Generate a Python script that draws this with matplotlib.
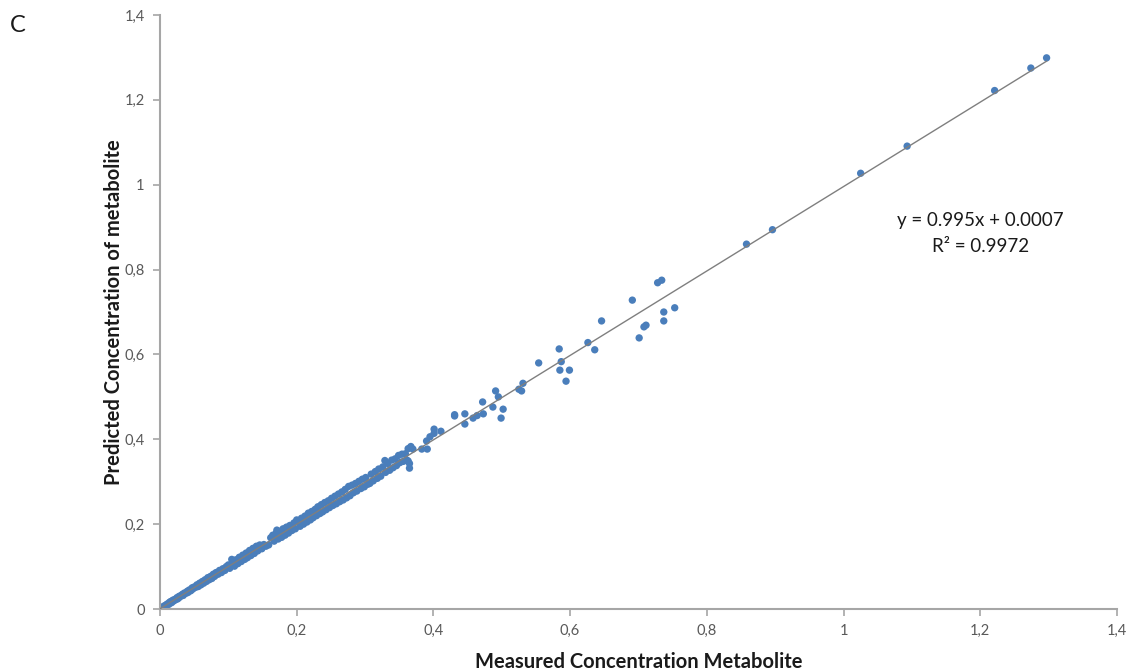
'''Predicted vs measured metabolite concentration'''

# Importing Libraries
import numpy as np
import matplotlib.pyplot as plt

# Measured / predicted concentrations
measured = [
    0.002, 0.004, 0.005, 0.007, 0.008, 0.010, 0.011, 0.013, 0.014, 0.016,
    0.017, 0.019, 0.020, 0.022, 0.023, 0.025, 0.026, 0.028, 0.029, 0.031,
    0.033, 0.034, 0.036, 0.038, 0.040, 0.041, 0.043, 0.045, 0.047, 0.048,
    0.050, 0.052, 0.054, 0.056, 0.058, 0.060, 0.062, 0.064, 0.066, 0.068,
    0.070, 0.072, 0.074, 0.076, 0.078, 0.080, 0.082, 0.085, 0.087, 0.090,
    0.092, 0.095, 0.097,
    0.100, 0.102, 0.105, 0.106, 0.109, 0.111, 0.114, 0.116, 0.119, 0.121,
    0.124, 0.126, 0.128, 0.131, 0.133, 0.136, 0.138, 0.141, 0.143, 0.146,
    0.149, 0.152, 0.155, 0.159, 0.162, 0.165, 0.167, 0.170, 0.171, 0.173,
    0.176, 0.178, 0.180, 0.183, 0.185, 0.188, 0.190, 0.193, 0.196, 0.198,
    0.200, 0.202, 0.205, 0.207, 0.210, 0.212, 0.215, 0.217, 0.220, 0.222,
    0.224, 0.227, 0.229, 0.231, 0.234, 0.236, 0.238, 0.241, 0.243, 0.246,
    0.248, 0.251, 0.253, 0.256, 0.258, 0.261, 0.263, 0.266, 0.268, 0.271,
    0.273, 0.276, 0.278, 0.281, 0.283, 0.286, 0.288, 0.291, 0.294, 0.296,
    0.299,
    0.301, 0.304, 0.307, 0.309, 0.312, 0.315, 0.318, 0.320, 0.323, 0.326,
    0.329, 0.330, 0.333, 0.336, 0.339, 0.341, 0.344, 0.346, 0.349, 0.351,
    0.354, 0.356, 0.359, 0.361, 0.363, 0.365, 0.365, 0.367, 0.363, 0.370,
    0.383, 0.391, 0.390, 0.395, 0.401, 0.401, 0.411, 0.431, 0.431, 0.446,
    0.446, 0.458, 0.464, 0.473, 0.472, 0.487, 0.491, 0.495, 0.499, 0.502,
    0.525, 0.529, 0.531, 0.554, 0.584, 0.587, 0.585, 0.599, 0.594, 0.626,
    0.636, 0.646, 0.691, 0.701, 0.708, 0.711, 0.737, 0.737, 0.753, 0.728,
    0.734, 0.858, 0.896, 1.025, 1.093, 1.221, 1.274, 1.297,
]
predicted = [
    0.003, 0.004, 0.006, 0.008, 0.007, 0.011, 0.012, 0.011, 0.016, 0.018,
    0.015, 0.021, 0.019, 0.023, 0.022, 0.027, 0.024, 0.030, 0.028, 0.032,
    0.035, 0.032, 0.038, 0.037, 0.042, 0.039, 0.045, 0.043, 0.050, 0.047,
    0.052, 0.051, 0.057, 0.053, 0.061, 0.057, 0.065, 0.061, 0.069, 0.065,
    0.074, 0.069, 0.077, 0.072, 0.082, 0.077, 0.086, 0.082, 0.091, 0.086,
    0.095, 0.091, 0.100,
    0.104, 0.096, 0.117, 0.109, 0.101, 0.116, 0.107, 0.122, 0.112, 0.127,
    0.117, 0.132, 0.121, 0.138, 0.126, 0.143, 0.131, 0.148, 0.137, 0.151,
    0.142, 0.152, 0.148, 0.151, 0.168, 0.174, 0.160, 0.179, 0.186, 0.165,
    0.183, 0.169, 0.189, 0.174, 0.193, 0.179, 0.197, 0.185, 0.203, 0.189,
    0.210, 0.207, 0.195, 0.214, 0.200, 0.219, 0.205, 0.226, 0.210, 0.230,
    0.215, 0.235, 0.220, 0.241, 0.225, 0.246, 0.229, 0.251, 0.234, 0.255,
    0.239, 0.261, 0.244, 0.266, 0.248, 0.271, 0.253, 0.276, 0.257, 0.282,
    0.262, 0.289, 0.267, 0.292, 0.274, 0.296, 0.278, 0.301, 0.284, 0.306,
    0.288,
    0.310, 0.294, 0.296, 0.318, 0.302, 0.324, 0.308, 0.330, 0.313, 0.335,
    0.350, 0.322, 0.343, 0.327, 0.351, 0.333, 0.354, 0.338, 0.362, 0.345,
    0.365, 0.348, 0.366, 0.351, 0.349, 0.343, 0.332, 0.383, 0.378, 0.377,
    0.377, 0.377, 0.396, 0.406, 0.424, 0.414, 0.419, 0.455, 0.458, 0.460,
    0.436, 0.450, 0.456, 0.460, 0.488, 0.476, 0.514, 0.500, 0.450, 0.471,
    0.518, 0.514, 0.532, 0.580, 0.613, 0.583, 0.563, 0.563, 0.537, 0.628,
    0.611, 0.679, 0.728, 0.639, 0.665, 0.669, 0.700, 0.679, 0.710, 0.769,
    0.775, 0.860, 0.894, 1.027, 1.091, 1.222, 1.275, 1.299,
]

# Linear trendline
slope = 0.995
intercept = 0.0007
r_squared = 0.9972

ticks = [0, 0.2, 0.4, 0.6, 0.8, 1.0, 1.2, 1.4]
tick_labels = ['0', '0,2', '0,4', '0,6', '0,8', '1', '1,2', '1,4']

plt.rcParams['font.family'] = ['Lato', 'DejaVu Sans']

fig = plt.figure(figsize=(11.37, 6.70), dpi=100)
ax = fig.add_axes([0.1407, 0.091, 0.8417, 0.8866])

ax.scatter(measured, predicted, s=28, color='#4A7EBB', edgecolors='none', zorder=2)

line_x = np.array([0, max(measured)])
ax.plot(line_x, slope * line_x + intercept, color='#7F7F7F', linewidth=1.0, zorder=3)

ax.set_xlim(0, 1.4)
ax.set_ylim(0, 1.4)
ax.set_xticks(ticks)
ax.set_xticklabels(tick_labels)
ax.set_yticks(ticks)
ax.set_yticklabels(tick_labels)

for side in ['top', 'right']:
    ax.spines[side].set_visible(False)
for side in ['left', 'bottom']:
    ax.spines[side].set_color('#A6A6A6')
    ax.spines[side].set_linewidth(1.5)
ax.tick_params(direction='out', length=5, width=1.2, color='#A6A6A6',
               labelcolor='#595959', labelsize=10.5, pad=6)

ax.set_xlabel('Measured Concentration Metabolite', fontsize=14.5,
              fontweight='bold', color='#1A1A1A', labelpad=10)
ax.set_ylabel('Predicted Concentration of metabolite', fontsize=14.5,
              fontweight='bold', color='#1A1A1A', labelpad=0)

ax.text(1.2, 0.885, f'y = {slope}x + {intercept}\nR² = {r_squared}', ha='center',
        va='center', fontsize=13.5, color='#1A1A1A', linespacing=1.6)

fig.text(0.009, 0.962, 'C', fontsize=17, color='#1A1A1A', va='center')

plt.savefig('out.png', dpi=100)
